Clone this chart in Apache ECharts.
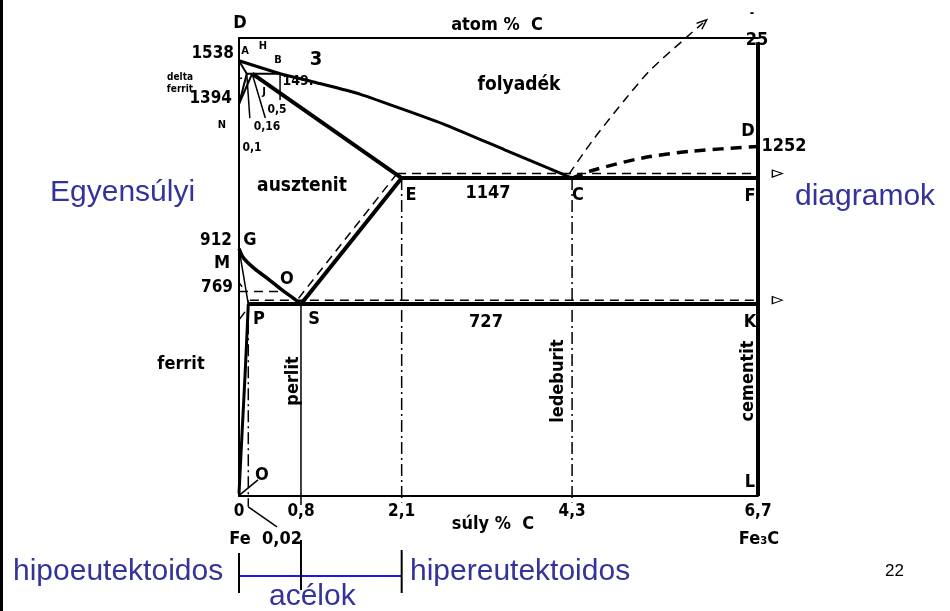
<!DOCTYPE html>
<html>
<head>
<meta charset="utf-8">
<script src="https://cdn.jsdelivr.net/npm/echarts@6/dist/echarts.min.js"></script>
<style>
  html, body { margin: 0; padding: 0; background: #fff; }
  #chart { width: 950px; height: 611px; }
</style>
</head>
<body>
<div id="chart"></div>
<script>
// Fe–Fe3C equilibrium diagram: carbon content (wt %) against temperature (°C)

// composition ticks on the bottom axis (wt % C)
const wtTicks = [0, 0.8, 2.1, 4.3, 6.7];

// phase boundaries as [wt % C, °C]
const liquidusABC = [[0, 1538], [0.53, 1495], [1.0, 1465], [1.56, 1427], [2.68, 1323], [3.43, 1241], [4.3, 1147]];
const deltaSolidusAH = [[0, 1538], [0.1, 1495]];
const peritecticHB = [[0.1, 1495], [0.53, 1495]];
const deltaSolvusHN = [[0.1, 1495], [0, 1394]];
const gammaBoundaryJN = [[0.17, 1495], [0, 1394]];
const solidusJE = [[0.17, 1495], [2.1, 1147]];
const eutecticEF = [[2.1, 1147], [6.7, 1147]];
const stableEutectic = [[2.04, 1162], [6.95, 1162]];
const cementiteLiquidusCD = [[4.3, 1147], [4.57, 1173], [5.21, 1214], [5.86, 1237], [6.7, 1252]];
const graphiteLiquidus = [[4.26, 1160], [4.57, 1274], [5.01, 1417], [5.31, 1507], [5.78, 1617], [5.99, 1664]];
const eutectoidPK = [[0.12, 727], [6.7, 727]];
const stableEutectoid = [[0.14, 740], [6.95, 740]];
const solvusES = [[2.1, 1147], [0.8, 727]];
const stableSolvus = [[2.04, 1162], [0.75, 740]];
const a3LineGS = [[0, 912], [0.06, 880], [0.2, 845], [0.37, 812], [0.55, 775], [0.7, 747], [0.8, 727]];
const lineGP = [[0, 912], [0.12, 727]];
const ferriteSolvusPQ = [[0.12, 727], [0.08, 500], [0.04, 300], [0, 95]];
const curieLine = [[0, 769], [0.57, 769]];
const cementiteLine = [[6.7, 87], [6.7, 1600]];

// vertical composition markers
const eutectoidVertical = [[0.8, 727], [0.8, 57]];
const eutecticEVertical = [[2.1, 1147], [2.1, 65]];
const eutecticCVertical = [[4.3, 1147], [4.3, 65]];
const ferriteVertical = [[0.12, 740], [0.12, 51]];

// leader lines from labels to their points
const leaders = [
  [[-0.57, 1464], [0.04, 1480]],
  [[-0.155, 1351], [0, 1394]],
  [[0.1, 1495], [0.14, 1347]],
  [[0.17, 1495], [0.34, 1347]],
  [[0.53, 1495], [0.53, 1407]],
  [[-0.13, 847], [0.04, 784]],
  [[-0.40, 534], [0.077, 701]],
  [[0.01, 91], [0.245, 141]],
  [[0.12, 51], [0.49, -16]]
];

const NARROW = '"Liberation Sans Narrow","DejaVu Sans Condensed","Arial Narrow",sans-serif';
const SANS = '"Liberation Sans",Arial,sans-serif';
const BLUE = '#333399';

const chart = echarts.init(document.getElementById('chart'), null, { renderer: 'canvas' });

function line(data, width, type, extra) {
  return Object.assign({
    type: 'line',
    data: data,
    clip: false,
    silent: true,
    symbol: 'none',
    animation: false,
    lineStyle: { color: '#000', width: width, type: type || 'solid', cap: 'butt' }
  }, extra || {});
}

function arrowEnd(data, width, type) {
  const head = {
    value: data[data.length - 1],
    symbol: 'triangle',
    symbolSize: [7, 10],
    symbolRotate: -90,
    itemStyle: { color: '#fff', borderColor: '#000', borderWidth: 1.2 }
  };
  return line(data.slice(0, -1).concat([head]), width, type, { showSymbol: true });
}

const dashDot = [12, 4, 2, 4];
const dashed = [9, 6];

const graphiteHead = {
  value: graphiteLiquidus[graphiteLiquidus.length - 1],
  symbol: 'path://M0,10 L5,0 L10,10',
  symbolSize: [8, 10],
  symbolRotate: -49,
  itemStyle: { color: 'rgba(0,0,0,0)', borderColor: '#000', borderWidth: 1.5 }
};

const series = [
  line(cementiteLine, 4),
  line(liquidusABC, 3, 'solid', { smooth: 0.15 }),
  line(deltaSolidusAH, 2),
  line(peritecticHB, 2),
  line(deltaSolvusHN, 2),
  line(gammaBoundaryJN, 2),
  line(solidusJE, 4),
  line(eutecticEF, 4),
  arrowEnd(stableEutectic, 1.5, dashed),
  line(cementiteLiquidusCD, 3.5, [11, 7], { smooth: 0.3 }),
  line(graphiteLiquidus.slice(0, -1).concat([graphiteHead]), 1.5, dashed, { smooth: 0.3, showSymbol: true }),
  line(eutectoidPK, 4),
  arrowEnd(stableEutectoid, 1.5, dashed),
  line(solvusES, 4),
  line(stableSolvus, 1.5, dashed),
  line(a3LineGS, 3.5, 'solid', { smooth: 0.3 }),
  line(lineGP, 1.5),
  line(ferriteSolvusPQ, 3, 'solid', { smooth: 0.3 }),
  line(curieLine, 1.5, dashed),
  line(eutectoidVertical, 1.5),
  line(eutecticEVertical, 1.5, dashDot),
  line(eutecticCVertical, 1.5, dashDot),
  line(ferriteVertical, 1.5, dashDot)
].concat(leaders.map(function (l) { return line(l, 1.5); }));

chart.setOption({
  animation: false,
  backgroundColor: '#fff',
  grid: { left: 239, right: 192, top: 38, bottom: 115 },
  xAxis: [{
    type: 'value', min: 0, max: 6.7, position: 'bottom',
    axisLine: { show: true, lineStyle: { color: '#000', width: 2 } },
    axisTick: { show: false },
    splitLine: { show: false },
    axisLabel: {
      customValues: wtTicks,
      formatter: function (v) { return String(v).replace('.', ','); },
      color: '#000', fontFamily: NARROW, fontWeight: 'bold', fontSize: 17, margin: 7
    }
  }, {
    type: 'value', min: 0, max: 6.7, position: 'top',
    axisLine: { show: true, onZero: false, lineStyle: { color: '#000', width: 2 } },
    axisTick: { show: false }, axisLabel: { show: false }, splitLine: { show: false }
  }],
  yAxis: {
    type: 'value', min: 87, max: 1614,
    axisLine: { show: true, onZero: false, lineStyle: { color: '#000', width: 2 } },
    axisTick: { show: false }, axisLabel: { show: false }, splitLine: { show: false }
  },
  series: series
});

// labels of the diagram
function t(text, x, y, size, rot, font, color, align) {
  return {
    type: 'text', x: x, y: y, rotation: rot || 0, silent: true, z: 50,
    style: {
      text: text,
      font: (font === SANS ? 'normal ' : 'bold ') + size + 'px ' + (font || NARROW),
      fill: color || '#000',
      align: align || 'center',
      verticalAlign: 'middle'
    }
  };
}
const up = Math.PI / 2;

const texts = [
  t('D', 240, 23, 18), t('atom %  C', 497, 25, 18), t('25', 757, 40, 18), t('-', 752, 14, 12),
  t('1538', 234, 54, 17, 0, null, null, 'right'), t('A', 245, 51, 11), t('H', 263, 46, 11), t('B', 278, 60, 11),
  t('3', 316, 60, 20), t('149.', 298, 81, 14),
  t('delta', 180, 77, 10), t('ferrit', 180, 89, 10),
  t('1394', 232, 99, 17, 0, null, null, 'right'), t('N', 222, 125, 11), t('J', 264, 92, 11),
  t('0,5', 277, 110, 12), t('0,16', 267, 127, 12), t('0,1', 252, 148, 12),
  t('folyadék', 519, 85, 19), t('ausztenit', 302, 186, 19),
  t('E', 411, 195, 18), t('1147', 488, 193, 18), t('C', 578, 195, 18), t('F', 750, 196, 18),
  t('D', 748, 131, 18), t('1252', 784, 146, 18),
  t('912', 232, 241, 17, 0, null, null, 'right'), t('G', 250, 240, 18), t('M', 222, 263, 18),
  t('769', 233, 288, 17, 0, null, null, 'right'),
  t('O', 287, 279, 18), t('P', 259, 319, 18), t('S', 314, 319, 18), t('727', 486, 322, 18),
  t('K', 750, 322, 18), t('ferrit', 181, 364, 18), t('L', 750, 482, 18), t('O', 262, 475, 18),
  t('perlit', 293, 381, 18, up), t('ledeburit', 558, 381, 18, up), t('cementit', 748, 381, 18, up),
  t('súly %  C', 493, 524, 18), t('Fe', 240, 539, 18), t('0,02', 282, 539, 18), t('Fe₃C', 759, 539, 18),
  t('Egyensúlyi', 50, 193, 30, 0, SANS, BLUE, 'left'),
  t('diagramok', 795, 197, 30, 0, SANS, BLUE, 'left'),
  t('hipoeutektoidos', 13, 572, 30, 0, SANS, BLUE, 'left'),
  t('hipereutektoidos', 410, 572, 30, 0, SANS, BLUE, 'left'),
  t('acélok', 269, 597, 30, 0, SANS, BLUE, 'left'),
  t('22', 885, 571, 17, 0, SANS, '#000', 'left')
];

// steel range bracket under the composition axis
const x0 = chart.convertToPixel({ xAxisIndex: 0 }, 0);
const x08 = chart.convertToPixel({ xAxisIndex: 0 }, 0.8);
const x21 = chart.convertToPixel({ xAxisIndex: 0 }, 2.1);
const bracket = [
  { type: 'line', shape: { x1: x0, y1: 576, x2: x21, y2: 576 }, style: { stroke: '#1a1aee', lineWidth: 2 } },
  { type: 'line', shape: { x1: x0, y1: 553, x2: x0, y2: 593 }, style: { stroke: '#000', lineWidth: 2 } },
  { type: 'line', shape: { x1: x08, y1: 540, x2: x08, y2: 590 }, style: { stroke: '#000', lineWidth: 2 } },
  { type: 'line', shape: { x1: x21, y1: 550, x2: x21, y2: 593 }, style: { stroke: '#000', lineWidth: 2 } },
  { type: 'rect', shape: { x: 0, y: 0, width: 3, height: 611 }, style: { fill: '#000' } }
];

chart.setOption({ graphic: texts.concat(bracket) });
</script>
</body>
</html>
